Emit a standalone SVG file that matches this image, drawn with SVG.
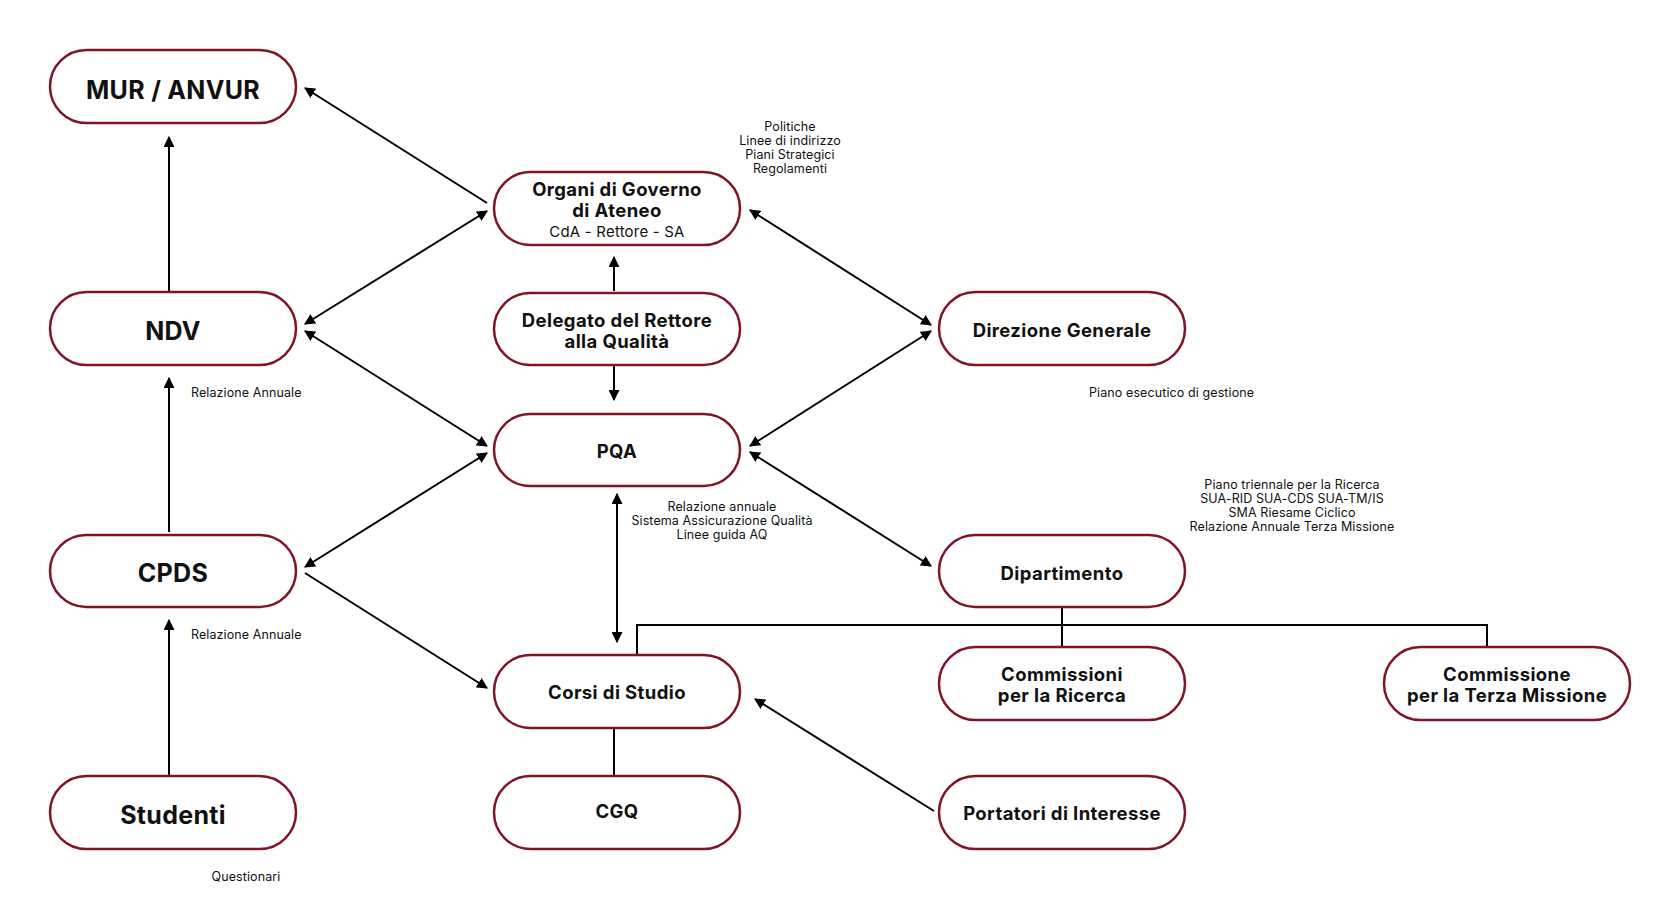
<svg xmlns="http://www.w3.org/2000/svg" width="1680" height="900" viewBox="0 0 1680 900">
<style>
.n{fill:#fff;stroke:#7f1628;stroke-width:2.5}
.t{font-family:Inter,"Noto Sans","Liberation Sans",sans-serif;font-weight:700;fill:#111;text-anchor:middle}
.big{font-size:25px;letter-spacing:0.3px}
.med{font-size:18.5px;letter-spacing:0.4px}
.reg{font-family:Inter,"Noto Sans","Liberation Sans",sans-serif;font-size:15px;fill:#111;text-anchor:middle;letter-spacing:0.2px}
.s{font-family:Inter,"Noto Sans","Liberation Sans",sans-serif;font-size:12.5px;fill:#111;letter-spacing:0.1px}
.c{text-anchor:middle}
.l{stroke:#000;stroke-width:2;fill:none}
.a{marker-end:url(#ah)}
.b{marker-start:url(#ah);marker-end:url(#ah)}
</style>
<defs>
<marker id="ah" viewBox="0 0 10 10" refX="9" refY="5" markerWidth="5.5" markerHeight="5.5" orient="auto-start-reverse" markerUnits="strokeWidth">
<path d="M0,0 L10,5 L0,10 z" fill="#000"/>
</marker>
</defs>
<rect width="1680" height="900" fill="#fff"/>
<g id="connectors">
<line class="l a" x1="487" y1="203" x2="305" y2="88"/>
<line class="l a" x1="169" y1="291" x2="169" y2="137"/>
<line class="l b" x1="487" y1="211" x2="305" y2="324"/>
<line class="l b" x1="305" y1="331" x2="487" y2="446"/>
<line class="l a" x1="169" y1="532" x2="169" y2="378"/>
<line class="l b" x1="305" y1="567" x2="487" y2="453"/>
<line class="l a" x1="305" y1="573" x2="487" y2="688"/>
<line class="l a" x1="169" y1="775" x2="169" y2="620"/>
<line class="l a" x1="614" y1="291" x2="614" y2="257"/>
<line class="l a" x1="614" y1="366" x2="614" y2="400"/>
<line class="l b" x1="617" y1="494" x2="617" y2="642"/>
<line class="l b" x1="750" y1="210" x2="931" y2="325"/>
<line class="l b" x1="931" y1="331" x2="750" y2="446"/>
<line class="l b" x1="750" y1="452" x2="931" y2="566"/>
<path class="l" d="M1062,607 V625 M637,655 V625 H1487 V647 M1062,625 V647"/>
<line class="l" x1="614" y1="729" x2="614" y2="776"/>
<line class="l a" x1="934" y1="811" x2="755" y2="699"/>
</g>
<g id="mur"><rect class="n" x="50" y="50" width="246" height="73" rx="36.5"/><text class="t big" x="173" y="99">MUR / ANVUR</text></g>
<g id="ndv"><rect class="n" x="50" y="292" width="246" height="73" rx="36.5"/><text class="t big" x="173" y="340">NDV</text></g>
<g id="cpds"><rect class="n" x="50" y="535" width="246" height="72" rx="36"/><text class="t big" x="173" y="582">CPDS</text></g>
<g id="studenti"><rect class="n" x="50" y="776" width="246" height="73" rx="36.5"/><text class="t big" x="173" y="824">Studenti</text></g>
<g id="organi"><rect class="n" x="494" y="172" width="246" height="73" rx="36.5"/><text class="t med" x="617" y="196">Organi di Governo</text><text class="t med" x="617" y="217">di Ateneo</text><text class="reg" x="617" y="237">CdA - Rettore - SA</text></g>
<g id="delegato"><rect class="n" x="494" y="293" width="246" height="72" rx="36"/><text class="t med" x="617" y="327">Delegato del Rettore</text><text class="t med" x="617" y="348">alla Qualità</text></g>
<g id="pqa"><rect class="n" x="494" y="414" width="246" height="72" rx="36"/><text class="t med" x="617" y="458">PQA</text></g>
<g id="corsi"><rect class="n" x="494" y="655" width="246" height="73" rx="36.5"/><text class="t med" x="617" y="699">Corsi di Studio</text></g>
<g id="cgq"><rect class="n" x="494" y="776" width="246" height="73" rx="36.5"/><text class="t med" x="617" y="818">CGQ</text></g>
<g id="direzione"><rect class="n" x="939" y="292" width="246" height="73" rx="36.5"/><text class="t med" x="1062" y="337">Direzione Generale</text></g>
<g id="dipartimento"><rect class="n" x="939" y="535" width="246" height="72" rx="36"/><text class="t med" x="1062" y="580">Dipartimento</text></g>
<g id="commricerca"><rect class="n" x="939" y="647" width="246" height="73" rx="36.5"/><text class="t med" x="1062" y="681">Commissioni</text><text class="t med" x="1062" y="702">per la Ricerca</text></g>
<g id="commtm"><rect class="n" x="1384" y="647" width="246" height="73" rx="36.5"/><text class="t med" x="1507" y="681">Commissione</text><text class="t med" x="1507" y="702">per la Terza Missione</text></g>
<g id="portatori"><rect class="n" x="939" y="776" width="246" height="73" rx="36.5"/><text class="t med" x="1062" y="820">Portatori di Interesse</text></g>
<g id="labels">
<text class="s c" x="790" y="131">Politiche</text>
<text class="s c" x="790" y="145">Linee di indirizzo</text>
<text class="s c" x="790" y="159">Piani Strategici</text>
<text class="s c" x="790" y="173">Regolamenti</text>
<text class="s" x="191" y="397">Relazione Annuale</text>
<text class="s" x="1089" y="397">Piano esecutico di gestione</text>
<text class="s c" x="722" y="511">Relazione annuale</text>
<text class="s c" x="722" y="525">Sistema Assicurazione Qualità</text>
<text class="s c" x="722" y="539">Linee guida AQ</text>
<text class="s c" x="1292" y="489">Piano triennale per la Ricerca</text>
<text class="s c" x="1292" y="503">SUA-RID SUA-CDS SUA-TM/IS</text>
<text class="s c" x="1292" y="517">SMA Riesame Ciclico</text>
<text class="s c" x="1292" y="531">Relazione Annuale Terza Missione</text>
<text class="s" x="191" y="639">Relazione Annuale</text>
<text class="s c" x="246" y="881">Questionari</text>
</g>
</svg>
